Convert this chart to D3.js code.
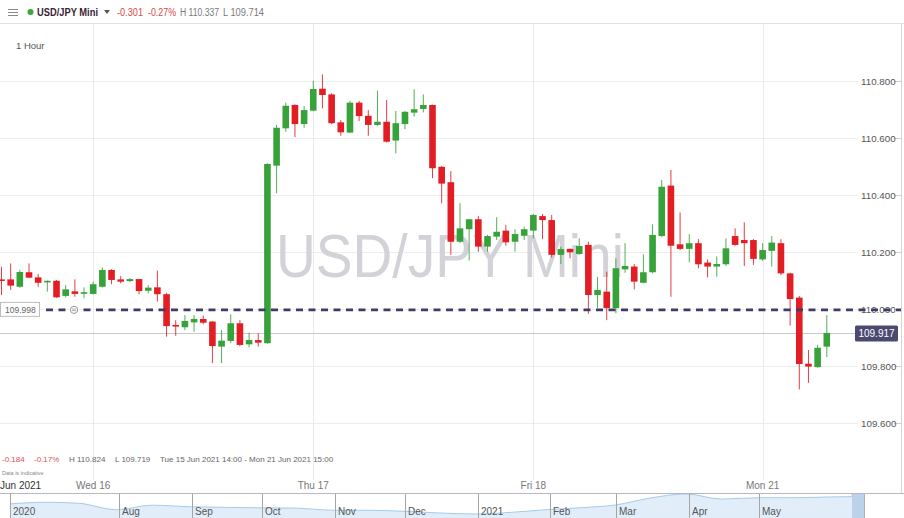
<!DOCTYPE html>
<html><head><meta charset="utf-8">
<script src="https://cdn.jsdelivr.net/npm/d3@7"></script>
<style>
html,body{margin:0;padding:0;background:#fff;}
svg{display:block;font-family:"Liberation Sans",Arial,sans-serif;}
</style></head>
<body>
<svg id="chart" width="904" height="518"></svg>
<script>
// ---------- DATA ----------
const candleOpen = [110.105,110.105,110.079,110.130,110.112,110.095,110.100,110.047,110.063,110.055,
110.054,110.079,110.138,110.105,110.099,110.106,110.065,110.077,110.053,109.945,
109.937,109.954,109.966,109.957,109.869,109.889,109.951,109.877,109.892,109.881,
110.504,110.635,110.717,110.650,110.697,110.774,110.754,110.656,110.620,110.725,
110.679,110.647,110.658,110.592,110.650,110.690,110.703,110.717,110.500,110.446,
110.237,110.281,110.316,110.220,110.255,110.276,110.237,110.258,110.276,110.327,
110.313,110.191,110.212,110.194,110.226,110.050,110.062,110.004,110.140,110.150,
110.093,110.130,110.257,110.434,110.228,110.212,110.232,110.164,110.150,110.158,
110.257,110.243,110.243,110.175,110.205,110.232,110.126,110.041,109.809,109.797,109.869];
const candleHigh = [110.149,110.161,110.138,110.161,110.124,110.101,110.103,110.085,110.105,110.077,
110.097,110.147,110.141,110.117,110.109,110.107,110.085,110.136,110.058,109.962,
109.980,109.980,109.978,109.958,109.927,109.982,109.962,109.918,109.916,110.512,
110.647,110.725,110.719,110.713,110.802,110.824,110.758,110.664,110.731,110.731,
110.699,110.767,110.734,110.696,110.696,110.772,110.754,110.718,110.503,110.485,
110.372,110.317,110.327,110.261,110.323,110.296,110.281,110.290,110.334,110.334,
110.331,110.220,110.213,110.249,110.237,110.114,110.132,110.179,110.232,110.159,
110.193,110.298,110.454,110.489,110.340,110.264,110.246,110.175,110.185,110.249,
110.284,110.305,110.246,110.232,110.257,110.246,110.128,110.047,109.857,109.875,109.980];
const candleLow = [110.050,110.068,110.076,110.109,110.079,110.062,110.040,110.042,110.044,110.039,
110.052,110.077,110.088,110.091,110.096,110.053,110.056,110.027,109.904,109.907,
109.927,109.921,109.948,109.811,109.811,109.881,109.871,109.867,109.869,109.879,
110.407,110.623,110.604,110.637,110.695,110.705,110.650,110.609,110.618,110.661,
110.609,110.644,110.585,110.547,110.632,110.676,110.691,110.460,110.372,110.191,
110.232,110.171,110.202,110.202,110.243,110.223,110.202,110.243,110.249,110.246,
110.182,110.159,110.179,110.191,109.984,110.004,109.962,109.986,110.128,110.070,
110.091,110.126,110.253,110.044,110.208,110.165,110.144,110.112,110.114,110.152,
110.223,110.152,110.156,110.170,110.150,110.120,109.943,109.719,109.742,109.795,109.832];
const candleClose = [110.100,110.083,110.131,110.111,110.093,110.100,110.042,110.070,110.054,110.060,
110.088,110.138,110.103,110.097,110.106,110.064,110.076,110.053,109.941,109.941,
109.959,109.966,109.953,109.871,109.890,109.951,109.875,109.892,109.883,110.510,
110.637,110.714,110.650,110.699,110.773,110.752,110.653,110.621,110.725,110.678,
110.647,110.658,110.588,110.653,110.693,110.702,110.717,110.495,110.441,110.237,
110.284,110.316,110.220,110.257,110.272,110.235,110.264,110.281,110.331,110.313,
110.191,110.211,110.200,110.222,110.050,110.068,110.004,110.144,110.152,110.097,
110.130,110.261,110.430,110.223,110.212,110.232,110.158,110.150,110.159,110.214,
110.226,110.232,110.177,110.208,110.234,110.126,110.036,109.808,109.799,109.865,109.917];

const priceTicks = [109.6, 109.8, 110.0, 110.2, 110.4, 110.6, 110.8];
const dayLabels = ["Wed 16", "Thu 17", "Fri 18", "Mon 21"];
const dayLabelIndex = [10, 34, 58, 83];
const levelLine = 109.998;
const lastPrice = 109.917;

const navDates = ["2020-06-16","2020-07-01","2020-07-15","2020-07-31","2020-08-15","2020-09-01","2020-09-15",
"2020-10-01","2020-10-15","2020-11-01","2020-11-15","2020-12-01","2020-12-15","2021-01-01","2021-01-15",
"2021-02-01","2021-02-15","2021-03-01","2021-03-15","2021-03-31","2021-04-15","2021-05-01","2021-05-15",
"2021-06-01","2021-06-10","2021-06-21"];
const navValues = [107.0,107.6,107.2,104.8,106.5,105.9,105.7,105.5,105.4,104.6,104.6,104.2,103.6,103.2,103.8,
104.9,105.6,106.6,109.1,110.7,108.8,109.3,109.3,109.6,109.7,110.6];
const navTickLabels = ["2020","Aug","Sep","Oct","Nov","Dec","2021","Feb","Mar","Apr","May"];
const navTickDates = ["2020-06-16","2020-08-01","2020-09-01","2020-10-01","2020-11-01","2020-12-01",
"2021-01-01","2021-02-01","2021-03-01","2021-04-01","2021-05-01"];

// ---------- DRAW ----------
const svg = d3.select("#chart");
const W = 904, H = 518;
const GREEN = "#37a23a", RED = "#e21d24";

const x = d3.scaleLinear().domain([0, candleOpen.length - 1]).range([1.5, 826.8]);
const y = d3.scaleLinear().domain([109.6, 110.8]).range([423.3, 81.3]);

// header
svg.append("line").attr("x1",0).attr("x2",W).attr("y1",23.5).attr("y2",23.5).attr("stroke","#e2e2e2");
[9,12,15].forEach(v=>svg.append("line").attr("x1",8).attr("x2",18).attr("y1",v+0.5).attr("y2",v+0.5).attr("stroke","#8a8a8a").attr("stroke-width",1));
svg.append("circle").attr("cx",30.5).attr("cy",12).attr("r",3).attr("fill","#3aa63a");
svg.append("text").attr("x",37).attr("y",16).attr("font-size",11).attr("font-weight",700).attr("fill","#3b2233")
  .attr("textLength",61).attr("lengthAdjust","spacingAndGlyphs").text("USD/JPY Mini");
svg.append("path").attr("d","M104,10 L110,10 L107,14 Z").attr("fill","#555");
const hdrItems = [["-0.301",117,26,"#e04848"],["-0.27%",148,28,"#e04848"],["H 110.337",180,39,"#7a7a7a"],["L 109.714",223,41,"#7a7a7a"]];
hdrItems.forEach(h=>svg.append("text").attr("x",h[1]).attr("y",16).attr("font-size",10).attr("fill",h[3])
  .attr("textLength",h[2]).attr("lengthAdjust","spacingAndGlyphs").text(h[0]));

svg.append("text").attr("x",16).attr("y",49).attr("font-size",9.5).attr("fill","#555").text("1 Hour");

// right border
svg.append("line").attr("x1",901.5).attr("x2",901.5).attr("y1",24).attr("y2",493).attr("stroke","#d5d5d5");

// horizontal grid + y labels
const yg = svg.append("g");
priceTicks.forEach(t=>{
  const yy = Math.round(y(t)) + 0.5;
  yg.append("line").attr("x1",0).attr("x2",858).attr("y1",yy).attr("y2",yy).attr("stroke","#ededed");
  yg.append("line").attr("x1",894).attr("x2",901).attr("y1",yy).attr("y2",yy).attr("stroke","#cfcfcf");
  yg.append("text").attr("x",861).attr("y",yy+3.5).attr("font-size",9.8).attr("fill","#555").text(d3.format(".3f")(t));
});

// vertical day gridlines
dayLabelIndex.forEach(i=>{
  const xx = Math.round(x(i)) + 0.5;
  svg.append("line").attr("x1",xx).attr("x2",xx).attr("y1",24).attr("y2",480).attr("stroke","#ebebeb");
});

// watermark
svg.append("text").attr("x",276).attr("y",277).attr("font-size",61).attr("fill","#d2d2d8")
  .attr("textLength",348).attr("lengthAdjust","spacingAndGlyphs").text("USD/JPY Mini");

// last price line
const yl = Math.round(y(lastPrice)) + 0.5;
svg.append("line").attr("x1",0).attr("x2",855).attr("y1",yl).attr("y2",yl).attr("stroke","#c9c9c9").attr("stroke-width",1.2);

// candles
const idx = d3.range(candleOpen.length);
const bw = 6.6;
const g = svg.append("g");
g.selectAll("line.wick").data(idx).join("line")
  .attr("x1",i=>x(i)).attr("x2",i=>x(i))
  .attr("y1",i=>y(candleHigh[i])).attr("y2",i=>y(candleLow[i]))
  .attr("stroke",i=>candleClose[i]>=candleOpen[i]?GREEN:RED).attr("stroke-width",1).attr("opacity",0.85);
g.selectAll("rect.body").data(idx).join("rect")
  .attr("x",i=>x(i)-bw/2).attr("width",bw)
  .attr("y",i=>y(Math.max(candleOpen[i],candleClose[i])))
  .attr("height",i=>Math.max(1.6, Math.abs(y(candleOpen[i])-y(candleClose[i]))))
  .attr("fill",i=>candleClose[i]>=candleOpen[i]?GREEN:RED);

// dashed level line
const yd = y(levelLine);
svg.append("line").attr("x1",46).attr("x2",901).attr("y1",yd).attr("y2",yd)
  .attr("stroke","#3f3c6a").attr("stroke-width",2.6).attr("stroke-dasharray","7,5.5");
svg.append("rect").attr("x",0.5).attr("y",yd-7.5).attr("width",39).attr("height",14).attr("fill","#fff").attr("stroke","#bdbdbd");
svg.append("text").attr("x",5).attr("y",yd+3).attr("font-size",8.5).attr("fill","#666").text(d3.format(".3f")(levelLine));
svg.append("circle").attr("cx",74).attr("cy",yd).attr("r",3.6).attr("fill","#fff").attr("stroke","#9a9a9a").attr("stroke-width",1);
svg.append("line").attr("x1",72).attr("x2",76).attr("y1",yd-0.8).attr("y2",yd-0.8).attr("stroke","#9a9a9a").attr("stroke-width",0.8);
svg.append("line").attr("x1",72).attr("x2",76).attr("y1",yd+0.8).attr("y2",yd+0.8).attr("stroke","#9a9a9a").attr("stroke-width",0.8);

// last price label
svg.append("rect").attr("x",855).attr("y",yl-8).attr("width",43).attr("height",16).attr("rx",1.5).attr("fill","#4b4970");
svg.append("text").attr("x",876.5).attr("y",yl+3.5).attr("text-anchor","middle").attr("font-size",10).attr("fill","#fff").text(d3.format(".3f")(lastPrice));

// bottom info
const info = svg.append("text").attr("y",462).attr("font-size",8);
info.append("tspan").attr("x",2).attr("fill","#e05050").text("-0.184");
info.append("tspan").attr("x",34).attr("fill","#e05050").text("-0.17%");
info.append("tspan").attr("x",69).attr("fill","#666").text("H 110.824");
info.append("tspan").attr("x",115).attr("fill","#666").text("L 109.719");
info.append("tspan").attr("x",160).attr("fill","#666").text("Tue 15 Jun 2021 14:00 - Mon 21 Jun 2021 15:00");
svg.append("text").attr("x",2).attr("y",475).attr("font-size",5.5).attr("fill","#888").text("Data is indicative");

// time axis labels
svg.append("text").attr("x",0).attr("y",489).attr("font-size",10).attr("fill","#333").text("Jun 2021");
dayLabels.forEach((lab,k)=>{
  svg.append("text").attr("x",x(dayLabelIndex[k])).attr("y",489).attr("text-anchor","middle")
    .attr("font-size",10).attr("fill","#777").text(lab);
});

// navigator
const parse = d3.timeParse("%Y-%m-%d");
const nx = d3.scaleTime().domain([parse("2020-08-01"), parse("2021-05-01")]).range([119, 759]);
const ny = d3.scaleLinear().domain([102, 111]).range([517.2, 493.2]);
const navPts = navDates.map((d,i)=>[nx(parse(d)), ny(navValues[i])]);
navPts[0][0] = 10;
const lastX = 852;
navPts[navPts.length-1][0] = lastX;
svg.append("path").datum(navPts)
  .attr("d", d3.area().x(d=>d[0]).y0(518).y1(d=>d[1]).curve(d3.curveMonotoneX))
  .attr("fill","#e1eef9");
svg.append("path").datum(navPts)
  .attr("d", d3.line().x(d=>d[0]).y(d=>d[1]).curve(d3.curveMonotoneX))
  .attr("fill","none").attr("stroke","#a6cbe8").attr("stroke-width",1);
svg.append("rect").attr("x",852).attr("y",494).attr("width",12).attr("height",24).attr("fill","#a9c8e6").attr("opacity",0.8);
svg.append("line").attr("x1",0).attr("x2",W).attr("y1",493.5).attr("y2",493.5).attr("stroke","#b8b8c4");
svg.append("line").attr("x1",864.5).attr("x2",864.5).attr("y1",494).attr("y2",518).attr("stroke","#b0b0b8");
navTickLabels.forEach((lab,k)=>{
  const xx = Math.round(k===0 ? 10 : nx(parse(navTickDates[k]))) + 0.5;
  svg.append("line").attr("x1",xx).attr("x2",xx).attr("y1",494).attr("y2",518).attr("stroke","#a5a5a5");
  svg.append("text").attr("x",xx+2.5).attr("y",515).attr("font-size",10).attr("fill","#555").text(lab);
});
</script>
</body></html>
